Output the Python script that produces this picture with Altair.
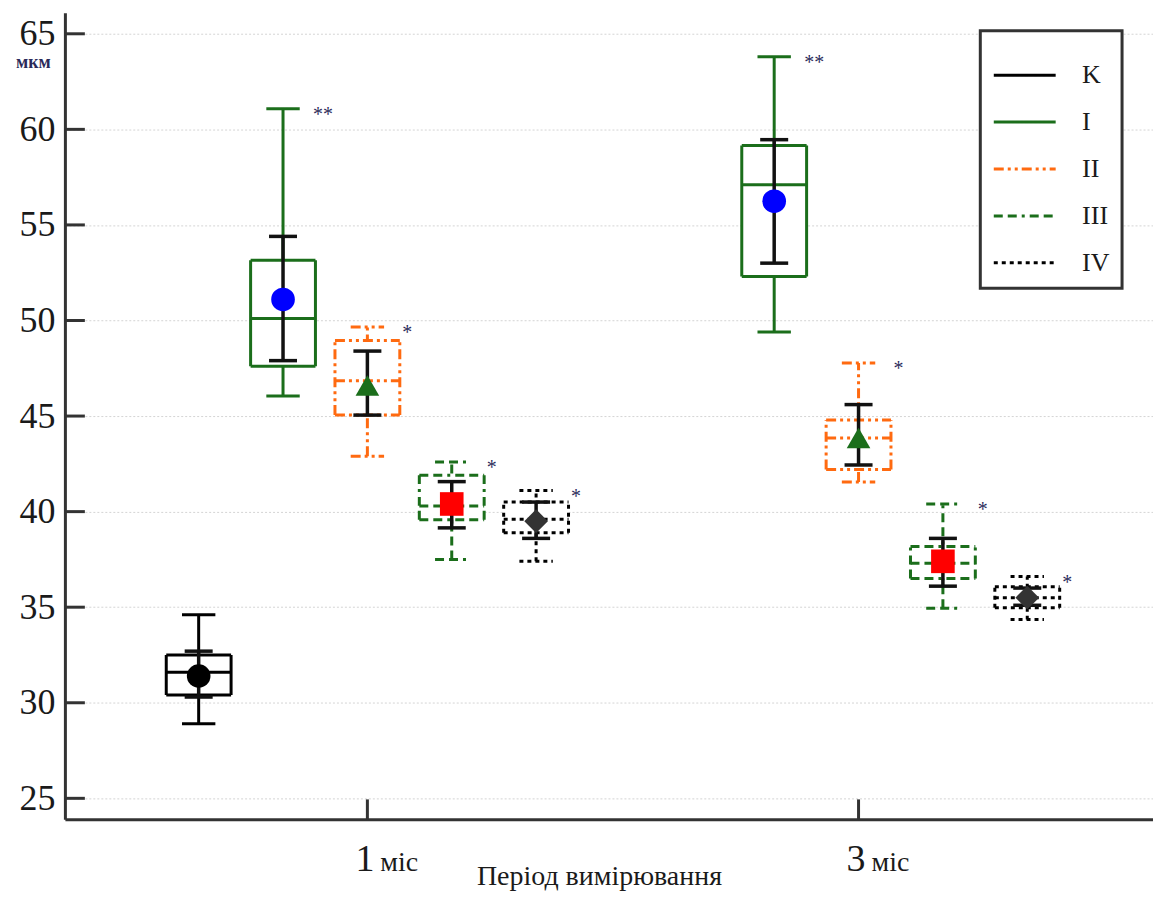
import altair as alt
import pandas as pd

# ---------------- data ----------------
groups = ["K", "I", "II", "III", "IV", "I", "II", "III", "IV"]
periods = [1, 1, 1, 1, 1, 3, 3, 3, 3]
slots = [-2, -1, 0, 1, 2, -1, 0, 1, 2]
whisker_lo = [28.9, 46.05, 42.9, 37.5, 37.4, 49.4, 41.55, 34.95, 34.35]
q1 = [30.4, 47.6, 45.05, 39.57, 38.9, 52.3, 42.2, 36.5, 34.97]
median = [31.6, 50.1, 46.85, 40.3, 39.6, 57.1, 43.85, 37.3, 35.5]
q3 = [32.5, 53.15, 48.95, 41.9, 40.5, 59.15, 44.8, 38.18, 36.07]
whisker_hi = [34.6, 61.08, 49.66, 42.6, 41.1, 63.8, 47.77, 40.4, 36.6]
mean = [31.4, 51.1, 46.6, 40.4, 39.5, 56.24, 43.85, 37.4, 35.5]
err_lo = [30.3, 47.9, 45.05, 39.15, 38.6, 53.0, 42.44, 36.1, 35.1]
err_hi = [32.7, 54.4, 48.4, 41.57, 40.5, 59.46, 45.6, 38.6, 36.0]
stars = ["", "**", "*", "*", "*", "**", "*", "*", "*"]

legend_order = ["K", "I", "II", "III", "IV"]
group_colors = ["#000000", "#1b6e1b", "#ff6a10", "#1b6e1b", "#000000"]
group_dashes = [[1, 0], [1, 0], [10, 4, 3, 4, 3, 4], [9, 5, 9, 5, 3, 5], [4, 4]]
group_widths = [3, 3, 3, 3, 4]
mean_colors = ["#000000", "#0000ff", "#1b6e1b", "#ff0000", "#333333"]
mean_shapes = ["circle", "circle", "triangle-up", "square", "diamond"]

period_ticks = [1, 3]
period_nums = ["1", "3"]
period_unit = "міс"
y_ticks = [25, 30, 35, 40, 45, 50, 55, 60, 65]

# ---------------- layout constants ----------------
SLOT_STEP = 0.3435
BOX_HALF = 0.132
CAP_HALF = 0.068
ERR_HALF = 0.057
W, H = 1090, 808
SERIF = "Liberation Serif"
TXT = "#1a1a1a"

df = pd.DataFrame(dict(group=groups, period=periods, slot=slots, wlo=whisker_lo,
                       q1=q1, med=median, q3=q3, whi=whisker_hi, mean=mean,
                       elo=err_lo, ehi=err_hi, star=stars))
df["pos"] = df["period"] + df["slot"] * SLOT_STEP
df["box_l"] = df["pos"] - BOX_HALF
df["box_r"] = df["pos"] + BOX_HALF
df["cap_l"] = df["pos"] - CAP_HALF
df["cap_r"] = df["pos"] + CAP_HALF
df["err_l"] = df["pos"] - ERR_HALF
df["err_r"] = df["pos"] + ERR_HALF

xscale = alt.Scale(domain=[-0.2317, 4.199], nice=False, zero=False)
yscale = alt.Scale(domain=[23.9, 66.1], nice=False, zero=False)
xaxis = alt.Axis(title="Період вимірювання", labels=False, ticks=False, grid=False,
                 domainColor="#333333", domainWidth=3, titleFont=SERIF, titleFontSize=28,
                 titleFontWeight="normal", titleColor=TXT, titleX=535, titleY=65,
                 titleAlign="center", titleBaseline="alphabetic")
yaxis = alt.Axis(values=y_ticks, title="мкм", titleAngle=0, titleX=-32, titleY=50,
                 titleAlign="center", titleBaseline="middle", titleFont=SERIF,
                 titleFontSize=18, titleFontWeight="bold", titleColor="#2a2a5a",
                 labelFont=SERIF, labelFontSize=36, labelColor=TXT, labelPadding=10,
                 ticks=False, domainColor="#333333", domainWidth=3, grid=True,
                 gridColor="#d4d4d4", gridDash=[2, 2], gridWidth=1)


def X(f):
    return alt.X(f, type="quantitative", scale=xscale, axis=xaxis)


def Y(f):
    return alt.Y(f, type="quantitative", scale=yscale, axis=yaxis)


leg = alt.Legend(title=None, symbolType="stroke", labelExpr="datum.label + '\u2007\u2007'")
color_enc = alt.Color("group:N", scale=alt.Scale(domain=legend_order, range=group_colors), legend=leg)
dash_enc = alt.StrokeDash("group:N", scale=alt.Scale(domain=legend_order, range=group_dashes), legend=leg)
width_enc = alt.StrokeWidth("group:N", scale=alt.Scale(domain=legend_order, range=group_widths), legend=None)

base = alt.Chart(df)


def group_rule(xf, yf, x2f=None, y2f=None):
    enc = dict(x=X(xf), y=Y(yf), color=color_enc, strokeDash=dash_enc, strokeWidth=width_enc)
    if x2f:
        enc["x2"] = x2f
    if y2f:
        enc["y2"] = y2f
    return base.mark_rule(strokeCap="butt").encode(**enc)


ytick_layer = alt.Chart(pd.DataFrame({"v": y_ticks})).mark_rule(color="#333333", strokeWidth=3).encode(
    y=Y("v"), x=alt.value(0), x2=alt.value(20))
xtick_layer = alt.Chart(pd.DataFrame({"p": period_ticks})).mark_rule(color="#333333", strokeWidth=3).encode(
    x=X("p"), y=alt.value(H - 20), y2=alt.value(H))

whisk = group_rule("pos", "wlo", y2f="whi")
cap_lo = group_rule("cap_l", "wlo", x2f="cap_r")
cap_hi = group_rule("cap_l", "whi", x2f="cap_r")
box_fill = base.mark_rect(fill="white", stroke=None).encode(
    x=X("box_l"), x2="box_r", y=Y("q1"), y2="q3")
box_top = group_rule("box_l", "q3", x2f="box_r")
box_bot = group_rule("box_l", "q1", x2f="box_r")
box_left = group_rule("box_l", "q1", y2f="q3")
box_right = group_rule("box_r", "q1", y2f="q3")
med_line = group_rule("box_l", "med", x2f="box_r")
err = base.mark_rule(color="#111111", strokeWidth=3.5).encode(x=X("pos"), y=Y("elo"), y2="ehi")
err_lo_cap = base.mark_rule(color="#111111", strokeWidth=3.5).encode(x=X("err_l"), x2="err_r", y=Y("elo"))
err_hi_cap = base.mark_rule(color="#111111", strokeWidth=3.5).encode(x=X("err_l"), x2="err_r", y=Y("ehi"))

# mean markers: one layer per group with fixed shape / fill
mean_layers = [
    base.transform_filter(alt.datum.group == g).mark_point(
        filled=True, opacity=1, size=560, shape=s, fill=c, stroke=None
    ).encode(x=X("pos"), y=Y("mean"))
    for g, s, c in zip(legend_order, mean_shapes, mean_colors)
]

star_txt = base.mark_text(font=SERIF, fontSize=20, color="#2a2a5a", align="center", baseline="middle",
                          dx=40, dy=6).encode(x=X("pos"), y=Y("whi"), text="star:N")

lab_df = pd.DataFrame({"p": period_ticks, "num": period_nums, "unit": [period_unit] * len(period_ticks)})
num_txt = alt.Chart(lab_df).mark_text(font=SERIF, fontSize=38, color=TXT, align="right",
                                      baseline="alphabetic", dx=7).encode(
    x=X("p"), y=alt.value(H + 52), text="num:N")
unit_txt = alt.Chart(lab_df).mark_text(font=SERIF, fontSize=28, color=TXT, align="left",
                                       baseline="alphabetic", dx=13).encode(
    x=X("p"), y=alt.value(H + 52), text="unit:N")

chart = alt.layer(
    whisk, cap_lo, cap_hi, box_fill, box_top, box_bot, box_left, box_right, med_line,
    err, err_lo_cap, err_hi_cap, *mean_layers, star_txt, ytick_layer, xtick_layer, num_txt, unit_txt
).properties(
    width=W, height=H,
    autosize=alt.AutoSizeParams(type="none"),
    padding={"left": 57, "top": 4, "right": 0, "bottom": 72},
).configure_view(stroke=None).configure_axis(
    labelFont=SERIF, titleFont=SERIF
).configure_legend(
    orient="none", legendX=917, legendY=18, strokeColor="#333333", strokeWidth=3,
    fillColor="white", padding=12, symbolType="stroke", symbolSize=3844,
    symbolStrokeWidth=3, labelFont=SERIF, labelFontSize=26, labelColor=TXT,
    labelOffset=25, rowPadding=1, zindex=1
)

chart.save("out.html", embed_options={"renderer": "svg", "actions": False})
